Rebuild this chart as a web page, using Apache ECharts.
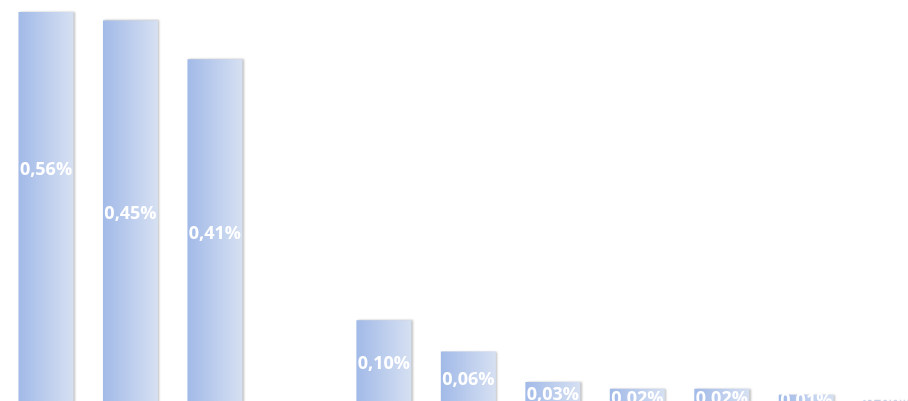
<!DOCTYPE html>
<html>
<head>
<meta charset="utf-8">
<script src="https://cdn.jsdelivr.net/npm/echarts@6/dist/echarts.min.js"></script>
<style>
    html, body { margin: 0; padding: 0; background: #fff; overflow: hidden; }
    /* the plot runs past the right and bottom edges of the window */
    #chartRate { width: 933px; height: 404px; }
</style>
</head>
<body>
<div id="chartRate"></div>
<script>
// categories are not labelled in the picture
var categories = ['1', '2', '3', '4', '5', '6', '7', '8', '9', '10', '11'];
// percent values (first bar runs past the top of the plot)
var values = [0.56, 0.454, 0.408, null, 0.099, 0.062, 0.026, 0.018, 0.018, 0.011, 0.004];
var axisMax = 0.464;

function renderRate() {
    var dom = document.getElementById("chartRate");
    var myChart = echarts.init(dom);

    var barColor = new echarts.graphic.LinearGradient(0, 0, 1, 0, [{
            offset: 0,
            color: '#a2bae8'
        },
        {
            offset: 1,
            color: '#d6e0f2'
        }
    ]);

    var option = {
        backgroundColor: '#ffffff',
        animation: false,
        grid: {
            left: 3.75,
            right: 0,
            top: 12,
            bottom: 0
        },
        xAxis: [{
            type: 'category',
            data: categories,
            show: false
        }],
        yAxis: [{
            type: 'value',
            min: 0,
            max: axisMax,
            show: false,
            splitLine: { show: false }
        }],
        series: [{
                // visible bars, clipped at the plot top
                type: 'bar',
                barWidth: 55,
                clip: true,
                itemStyle: {
                    color: barColor,
                    shadowColor: 'rgba(0,0,0,0.25)',
                    shadowBlur: 2,
                    shadowOffsetX: 1.5
                },
                data: values
            },
            {
                // label layer, placed on the unclipped bar
                type: 'bar',
                barWidth: 55,
                barGap: '-100%',
                clip: false,
                silent: true,
                itemStyle: { color: 'rgba(0,0,0,0)' },
                label: {
                    show: true,
                    position: 'inside',
                    offset: [0, 2],
                    color: '#ffffff',
                    fontFamily: 'Open Sans',
                    fontWeight: 'bold',
                    fontSize: 18,
                    formatter: function(p) {
                        return p.value.toFixed(2).replace('.', ',') + '%';
                    }
                },
                data: values
            }
        ]
    };
    myChart.setOption(option);

    window.addEventListener('resize', function() {
        myChart.resize();
    });
}

renderRate();
</script>
</body>
</html>
